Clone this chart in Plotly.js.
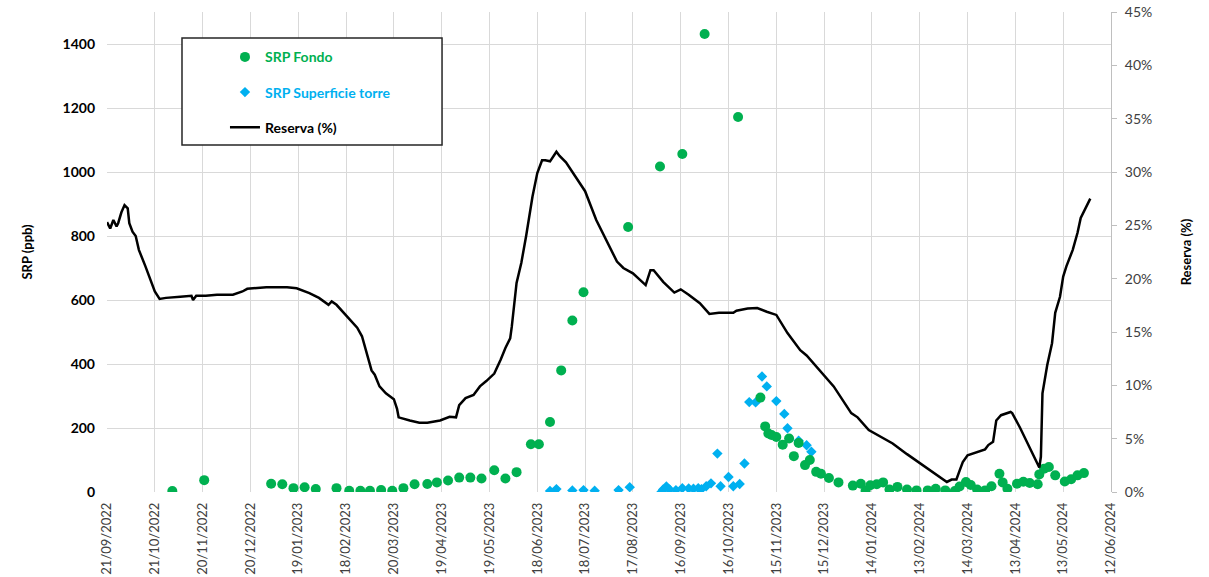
<!DOCTYPE html>
<html>
<head>
<meta charset="utf-8">
<script src="https://cdn.plot.ly/plotly-3.0.1.min.js"></script>
<style>html,body{margin:0;padding:0;background:#fff;}#chart{width:1209px;height:577px;}</style>
</head>
<body>
<div id="chart"></div>
<script>
// ---- Data ----
const fondoDates = ['2022-11-01','2022-11-21','2023-01-02','2023-01-09','2023-01-16','2023-01-23','2023-01-30','2023-02-12','2023-02-20','2023-02-27','2023-03-05','2023-03-12','2023-03-19','2023-03-26','2023-04-02','2023-04-10','2023-04-16','2023-04-23','2023-04-30','2023-05-07','2023-05-14','2023-05-22','2023-05-29','2023-06-05','2023-06-14','2023-06-19','2023-06-26','2023-07-03','2023-07-10','2023-07-17','2023-08-14','2023-09-03','2023-09-17','2023-10-01','2023-10-22','2023-11-05','2023-11-08','2023-11-10','2023-11-12','2023-11-15','2023-11-19','2023-11-23','2023-11-26','2023-11-29','2023-12-03','2023-12-06','2023-12-10','2023-12-13','2023-12-18','2023-12-24','2024-01-02','2024-01-07','2024-01-10','2024-01-13','2024-01-17','2024-01-21','2024-01-25','2024-01-30','2024-02-05','2024-02-11','2024-02-18','2024-02-23','2024-02-29','2024-03-06','2024-03-09','2024-03-13','2024-03-16','2024-03-20','2024-03-25','2024-03-29','2024-04-03','2024-04-05','2024-04-08','2024-04-14','2024-04-18','2024-04-22','2024-04-27','2024-04-28','2024-05-01','2024-05-04','2024-05-08','2024-05-14','2024-05-18','2024-05-22','2024-05-26'];
const fondoValues = [3,37,26,24,12,15,9,12,4,4,4,6,4,12,24,25,30,36,45,45,42,68,42,62,149,149,219,380,536,624,828,1017,1056,1431,1172,295,205,183,178,172,148,167,112,153,84,100,63,57,44,30,20,26,4,21,24,30,8,16,8,5,5,10,5,3,17,31,22,8,5,18,57,30,10,26,32,28,24,55,73,78,52,33,40,52,59];

const superficieDates = ['2023-06-26','2023-06-30','2023-07-10','2023-07-17','2023-07-24','2023-08-08','2023-08-15','2023-09-04','2023-09-05','2023-09-07','2023-09-09','2023-09-13','2023-09-17','2023-09-21','2023-09-24','2023-09-27','2023-09-29','2023-10-02','2023-10-05','2023-10-09','2023-10-11','2023-10-16','2023-10-19','2023-10-23','2023-10-26','2023-10-29','2023-11-02','2023-11-06','2023-11-09','2023-11-15','2023-11-20','2023-11-22','2023-11-29','2023-12-04','2023-12-07'];
const superficieValues = [3,9,5,6,4,6,15,1,8,17,8,6,12,11,10,12,9,18,27,120,18,47,18,25,89,281,280,361,330,284,244,199,160,146,126];

const reservaDates = ['2022-09-21','2022-09-23','2022-09-25','2022-09-27','2022-09-28','2022-09-30','2022-10-02','2022-10-04','2022-10-05','2022-10-07','2022-10-09','2022-10-11','2022-10-15','2022-10-18','2022-10-21','2022-10-24','2022-10-28','2022-11-06','2022-11-13','2022-11-14','2022-11-16','2022-11-22','2022-11-29','2022-12-09','2022-12-15','2022-12-18','2022-12-22','2022-12-30','2023-01-12','2023-01-18','2023-01-26','2023-02-01','2023-02-07','2023-02-09','2023-02-12','2023-02-18','2023-02-25','2023-02-28','2023-03-03','2023-03-06','2023-03-08','2023-03-11','2023-03-15','2023-03-20','2023-03-22','2023-03-23','2023-03-30','2023-04-05','2023-04-10','2023-04-18','2023-04-24','2023-04-28','2023-04-30','2023-05-04','2023-05-09','2023-05-13','2023-05-17','2023-05-22','2023-05-26','2023-05-29','2023-06-01','2023-06-02','2023-06-05','2023-06-08','2023-06-11','2023-06-15','2023-06-18','2023-06-21','2023-06-23','2023-06-26','2023-06-30','2023-07-02','2023-07-06','2023-07-13','2023-07-18','2023-07-25','2023-08-01','2023-08-07','2023-08-11','2023-08-17','2023-08-25','2023-08-28','2023-08-30','2023-09-05','2023-09-12','2023-09-16','2023-09-21','2023-09-28','2023-10-04','2023-10-10','2023-10-19','2023-10-21','2023-10-28','2023-11-03','2023-11-09','2023-11-15','2023-11-22','2023-11-27','2023-11-30','2023-12-04','2023-12-13','2023-12-21','2024-01-01','2024-01-05','2024-01-12','2024-01-19','2024-01-27','2024-02-05','2024-02-13','2024-02-22','2024-03-01','2024-03-04','2024-03-07','2024-03-09','2024-03-11','2024-03-14','2024-03-18','2024-03-22','2024-03-25','2024-03-27','2024-03-30','2024-04-01','2024-04-04','2024-04-10','2024-04-11','2024-04-16','2024-04-22','2024-04-28','2024-04-29','2024-04-30','2024-05-03','2024-05-06','2024-05-08','2024-05-11','2024-05-13','2024-05-15','2024-05-19','2024-05-22','2024-05-24','2024-05-27','2024-05-29','2024-05-30'];
const reservaValues = [25.3,24.7,25.5,24.9,25.2,26.2,26.9,26.6,25.2,24.4,24.0,22.7,21.2,19.9,18.8,18.1,18.2,18.3,18.4,18.0,18.4,18.4,18.5,18.5,18.8,19.05,19.1,19.2,19.2,19.1,18.65,18.2,17.55,17.86,17.55,16.6,15.4,14.6,13.0,11.4,11.0,9.9,9.25,8.7,7.8,7.0,6.7,6.5,6.5,6.7,7.05,7.0,8.15,8.8,9.1,9.9,10.4,11.1,12.4,13.5,14.4,15.5,19.6,21.5,24.0,27.7,29.9,31.1,31.1,31.0,31.9,31.5,30.9,29.3,28.2,25.5,23.35,21.6,21.0,20.5,19.4,20.8,20.8,19.7,18.7,19.0,18.5,17.7,16.7,16.8,16.8,17.0,17.2,17.25,16.9,16.6,14.9,13.95,13.3,12.8,11.3,9.9,7.4,7.0,5.8,5.2,4.55,3.55,2.7,1.8,0.94,1.17,1.17,2.0,2.8,3.45,3.67,3.85,4.0,4.4,4.7,6.7,7.2,7.5,7.4,6.0,4.1,2.3,3.3,9.25,11.9,13.95,16.8,18.3,20.2,21.15,22.7,24.3,25.7,26.6,27.1,27.5];

const xTickDates = ['2022-09-21','2022-10-21','2022-11-20','2022-12-20','2023-01-19','2023-02-18','2023-03-20','2023-04-19','2023-05-19','2023-06-18','2023-07-18','2023-08-17','2023-09-16','2023-10-16','2023-11-15','2023-12-15','2024-01-14','2024-02-13','2024-03-14','2024-04-13','2024-05-13','2024-06-12'];
const xTickLabels = ['21/09/2022','21/10/2022','20/11/2022','20/12/2022','19/01/2023','18/02/2023','20/03/2023','19/04/2023','19/05/2023','18/06/2023','18/07/2023','17/08/2023','16/09/2023','16/10/2023','15/11/2023','15/12/2023','14/01/2024','13/02/2024','14/03/2024','13/04/2024','13/05/2024','12/06/2024'];
const yTicks = [0,200,400,600,800,1000,1200,1400];
const y2Ticks = [0,5,10,15,20,25,30,35,40,45];
const y2TickLabels = ['0%','5%','10%','15%','20%','25%','30%','35%','40%','45%'];

// ---- Chart ----
const FONT = 'Lato, "Open Sans", sans-serif';
const GREEN = '#00b050', BLUE = '#00b0f0';

const traces = [
  {
    x: superficieDates, y: superficieValues, type: 'scatter', mode: 'markers',
    name: '<span style="color:' + BLUE + '"><b>SRP Superficie torre</b></span>',
    marker: {symbol: 'diamond', size: 8, color: BLUE},
    legendgroup: 'b', legendrank: 2, yaxis: 'y'
  },
  {
    x: fondoDates, y: fondoValues, type: 'scatter', mode: 'markers',
    name: '<span style="color:' + GREEN + '"><b>SRP Fondo</b></span>',
    marker: {symbol: 'circle', size: 10, color: GREEN},
    legendgroup: 'a', legendrank: 1, yaxis: 'y'
  },
  {
    x: reservaDates, y: reservaValues, type: 'scatter', mode: 'lines',
    name: '<b>Reserva (%)</b>',
    line: {color: '#000000', width: 2.5},
    legendgroup: 'c', legendrank: 3, yaxis: 'y2'
  }
];

const layout = {
  width: 1209, height: 577,
  margin: {l: 107, r: 98, t: 12, b: 85, pad: 0},
  paper_bgcolor: '#ffffff', plot_bgcolor: '#ffffff',
  font: {family: FONT, size: 13, color: '#404040'},
  showlegend: true,
  legend: {
    x: 0.1175, xanchor: 'left', y: 0.939, yanchor: 'top',
    bgcolor: 'rgba(0,0,0,0)', borderwidth: 0,
    font: {family: FONT, size: 14, color: '#000000'},
    traceorder: 'grouped', tracegroupgap: 14
  },
  shapes: [{
    type: 'rect', xref: 'paper', yref: 'paper',
    x0: 0.0747, x1: 0.3337, y0: 0.723, y1: 0.946,
    line: {color: '#262626', width: 1.5}, fillcolor: '#ffffff', layer: 'above'
  }],
  xaxis: {
    type: 'date', range: ['2022-09-21', '2024-06-12'],
    tickmode: 'array', tickvals: xTickDates, ticktext: xTickLabels,
    tickangle: -90, tickfont: {family: FONT, size: 13, color: '#404040'},
    showgrid: true, gridcolor: '#d9d9d9', gridwidth: 1,
    zeroline: false, showline: false, ticks: '', ticklabelstandoff: 7
  },
  yaxis: {
    range: [0, 1500], tickmode: 'array', tickvals: yTicks,
    tickfont: {family: FONT, size: 14, color: '#000000', weight: 'bold'},
    showgrid: true, gridcolor: '#d9d9d9', gridwidth: 1,
    zeroline: false, showline: false, ticks: '', ticklabelstandoff: 11,
    title: {text: 'SRP (ppb)', font: {family: FONT, size: 13, color: '#000000', weight: 'bold'}, standoff: 26}
  },
  yaxis2: {
    overlaying: 'y', side: 'right', range: [0, 45],
    tickmode: 'array', tickvals: y2Ticks, ticktext: y2TickLabels,
    tickfont: {family: FONT, size: 14, color: '#404040'},
    showgrid: false, zeroline: false,
    showline: true, linecolor: '#bfbfbf', linewidth: 1,
    ticks: 'outside', ticklen: 5, tickcolor: '#bfbfbf', tickwidth: 1, ticklabelstandoff: 5,
    title: {text: 'Reserva (%)', font: {family: FONT, size: 13, color: '#000000', weight: 'bold'}, standoff: 30}
  }
};

Plotly.newPlot('chart', traces, layout, {displayModeBar: false, responsive: false});
</script>
</body>
</html>
